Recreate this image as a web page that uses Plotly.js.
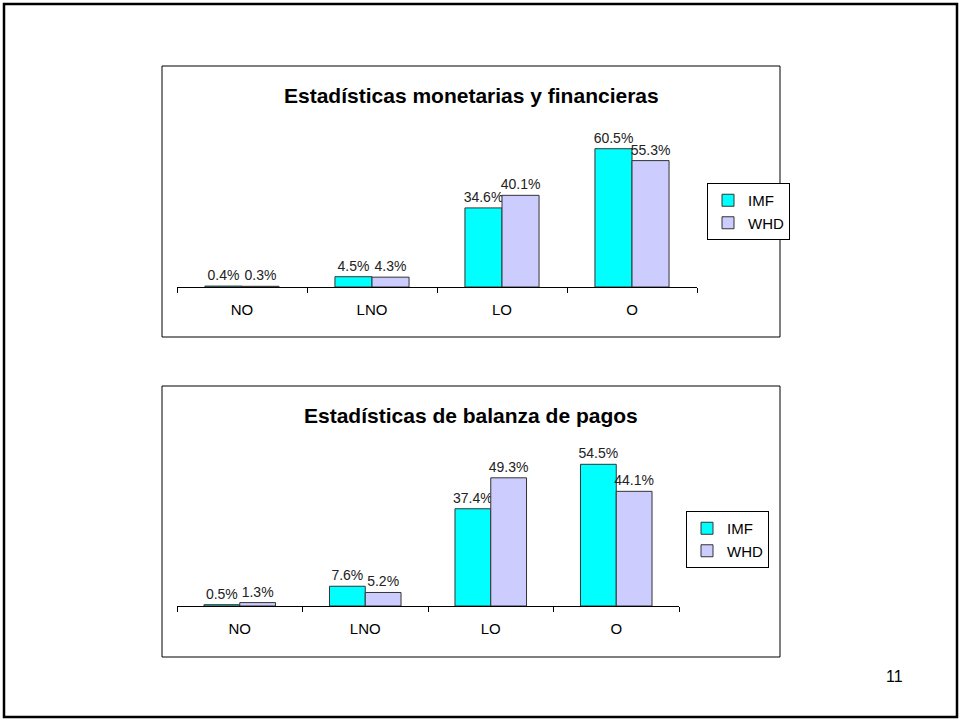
<!DOCTYPE html>
<html><head><meta charset="utf-8">
<script src="https://cdn.plot.ly/plotly-3.0.1.min.js"></script>
<style>html,body{margin:0;padding:0;background:#fff}#chart{width:961px;height:721px}</style>
</head><body><div id="chart"></div>
<script>
const categories = ['NO', 'LNO', 'LO', 'O'];
const seriesNames = ['IMF', 'WHD'];
const monetaryIMF = [0.4, 4.5, 34.6, 60.5];
const monetaryWHD = [0.3, 4.3, 40.1, 55.3];
const bopIMF = [0.5, 7.6, 37.4, 54.5];
const bopWHD = [1.3, 5.2, 49.3, 44.1];
const chartTitles = ['Estadísticas monetarias y financieras', 'Estadísticas de balanza de pagos'];
const pageNumber = '11';

const W = 961, H = 721;
const px = v => v / W;
const py = v => 1 - v / H;
const FONT = 'Liberation Sans, Arial, sans-serif';
const colors = ['#00FFFF', '#CCCCFF'];

function bar(name, vals, i, xa, ya, leg) {
  return {
    type: 'bar', name: name, x: categories, y: vals,
    xaxis: xa, yaxis: ya, legend: leg,
    marker: {color: colors[i], line: {color: '#333333', width: 1}},
    texttemplate: '%{y:.1f}%', textposition: 'outside', cliponaxis: false,
    constraintext: 'none',
    textfont: {family: FONT, size: 14, color: '#222222'},
    showlegend: true
  };
}

const data = [
  bar(seriesNames[0], monetaryIMF, 0, 'x', 'y', 'legend'),
  bar(seriesNames[1], monetaryWHD, 1, 'x', 'y', 'legend'),
  bar(seriesNames[0], bopIMF, 0, 'x2', 'y2', 'legend2'),
  bar(seriesNames[1], bopWHD, 1, 'x2', 'y2', 'legend2')
];

const xAxisBase = {
  type: 'category', showline: true, linecolor: '#000', linewidth: 1,
  ticks: 'outside', tickson: 'boundaries', ticklen: 5, tickcolor: '#000',
  showgrid: false, zeroline: false, fixedrange: true,
  tickfont: {family: FONT, size: 15, color: '#000'}, ticklabelstandoff: 9
};
const yAxisBase = {visible: false, showgrid: false, zeroline: false, fixedrange: true};

const legendBase = {
  bgcolor: '#fff', bordercolor: '#000', borderwidth: 1,
  font: {family: FONT, size: 15, color: '#000'},
  xanchor: 'left', yanchor: 'top', traceorder: 'normal', itemclick: false,
  itemwidth: 30
};

const layout = {
  width: W, height: H, margin: {l: 0, r: 0, t: 0, b: 0},
  paper_bgcolor: '#fff', plot_bgcolor: 'rgba(0,0,0,0)',
  barmode: 'group', bargap: 0.43, bargroupgap: 0,
  xaxis: Object.assign({}, xAxisBase, {domain: [px(177), px(697)], anchor: 'y'}),
  yaxis: Object.assign({}, yAxisBase, {domain: [py(287), py(127)], range: [0, 70], anchor: 'x'}),
  xaxis2: Object.assign({}, xAxisBase, {domain: [px(177), px(679)], anchor: 'y2'}),
  yaxis2: Object.assign({}, yAxisBase, {domain: [py(606), py(450)], range: [0, 60], anchor: 'x2'}),
  legend: Object.assign({}, legendBase, {x: px(707), y: py(183)}),
  legend2: Object.assign({}, legendBase, {x: px(686), y: py(511)}),
  shapes: [
    {type: 'rect', xref: 'paper', yref: 'paper', x0: px(4), x1: px(957), y0: py(4), y1: py(717), line: {color: '#000', width: 2.5}},
    {type: 'rect', xref: 'paper', yref: 'paper', x0: px(162), x1: px(780), y0: py(66), y1: py(337), line: {color: '#000', width: 1}},
    {type: 'rect', xref: 'paper', yref: 'paper', x0: px(162), x1: px(780), y0: py(386), y1: py(657), line: {color: '#000', width: 1}}
  ],
  annotations: [
    {text: '<b>' + chartTitles[0] + '</b>', xref: 'paper', yref: 'paper', x: px(471), y: py(96), showarrow: false, xanchor: 'center', yanchor: 'middle', font: {family: FONT, size: 21, color: '#000'}},
    {text: '<b>' + chartTitles[1] + '</b>', xref: 'paper', yref: 'paper', x: px(471), y: py(415), showarrow: false, xanchor: 'center', yanchor: 'middle', font: {family: FONT, size: 21, color: '#000'}},
    {text: pageNumber, xref: 'paper', yref: 'paper', x: px(894), y: py(676), showarrow: false, xanchor: 'center', yanchor: 'middle', font: {family: FONT, size: 16, color: '#000'}}
  ],
  hovermode: false
};

Plotly.newPlot('chart', data, layout, {staticPlot: true, displayModeBar: false});
</script></body></html>
